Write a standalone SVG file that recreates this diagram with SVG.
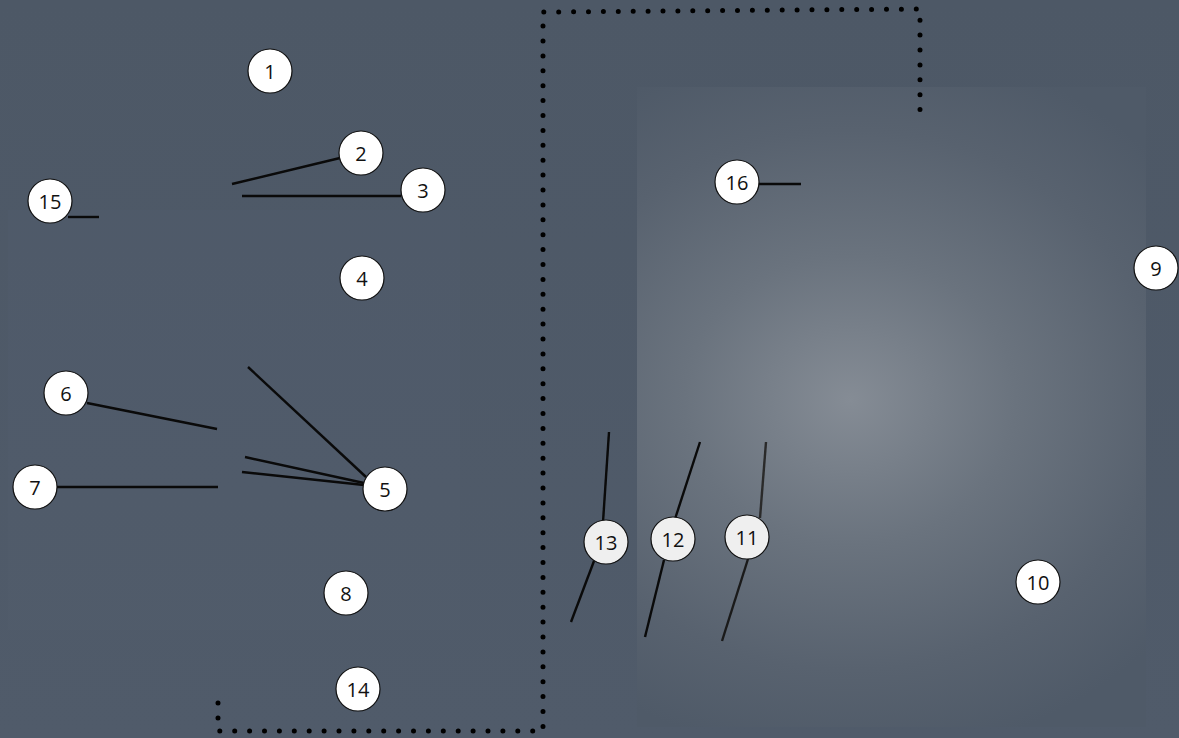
<svg xmlns="http://www.w3.org/2000/svg" width="1179" height="738" viewBox="0 0 1179 738">
<style>
.c{fill:#ffffff;stroke:#111;stroke-width:1.2}
.cg{fill:#efefef;stroke:#111;stroke-width:1.2}
.t{font-family:"Open Sans","Noto Sans","DejaVu Sans",sans-serif;font-size:20px;fill:#111;text-anchor:middle;dominant-baseline:central}
.l{stroke:#0a0a0a;stroke-width:2.4;fill:none}
.dots{stroke:#000;stroke-width:5;fill:none;stroke-linecap:round;stroke-dasharray:0 14.9}
</style>
<defs>
<linearGradient id="bg" x1="0" y1="0" x2="0" y2="1">
<stop offset="0" stop-color="#4d5866"/>
<stop offset="1" stop-color="#505b6a"/>
</linearGradient>
<radialGradient id="glow" gradientUnits="userSpaceOnUse" cx="850" cy="400" r="360" gradientTransform="translate(850 400) scale(1.15 1) translate(-850 -400)">
<stop offset="0" stop-color="#858c95"/>
<stop offset="0.4" stop-color="#6a737e"/>
<stop offset="0.75" stop-color="#58626f"/>
<stop offset="1" stop-color="#4f5a68"/>
</radialGradient>
</defs>
<rect x="0" y="0" width="1179" height="738" fill="url(#bg)"/>
<rect x="8" y="210" width="452" height="420" fill="#536070" opacity="0.25"/>
<rect x="637" y="87" width="509" height="640" fill="url(#glow)"/>
<g id="connectors">
<path class="dots" d="M218,703 L218,731 L543,731 L543,12 L920,9 L920,113"/>
<line class="l" x1="232" y1="184" x2="340" y2="158"/>
<line class="l" x1="242" y1="196" x2="401" y2="196"/>
<line class="l" x1="68" y1="217" x2="99" y2="217"/>
<line class="l" x1="87" y1="403" x2="217" y2="429"/>
<line class="l" x1="57" y1="487" x2="218" y2="487"/>
<line class="l" x1="248" y1="367" x2="366" y2="477"/>
<line class="l" x1="245" y1="457" x2="364" y2="483"/>
<line class="l" x1="242" y1="472" x2="364" y2="485"/>
<line class="l" x1="759" y1="184" x2="801" y2="184"/>
<line class="l" x1="609" y1="432" x2="603" y2="522"/>
<line class="l" x1="594" y1="561" x2="571" y2="622"/>
<line class="l" x1="700" y1="442" x2="675" y2="519"/>
<line class="l" x1="664" y1="560" x2="645" y2="637"/>
<line class="l" x1="766" y1="442" x2="760" y2="518" style="stroke:#2a2a2a"/>
<line class="l" x1="748" y1="559" x2="722" y2="641" style="stroke:#1a1a1a"/>
</g>
<g id="n1"><circle class="c" cx="270" cy="71" r="22"/><text class="t" x="270" y="71">1</text></g>
<g id="n2"><circle class="c" cx="361" cy="153" r="22"/><text class="t" x="361" y="153">2</text></g>
<g id="n3"><circle class="c" cx="423" cy="190" r="22"/><text class="t" x="423" y="190">3</text></g>
<g id="n4"><circle class="c" cx="362" cy="278" r="22"/><text class="t" x="362" y="278">4</text></g>
<g id="n5"><circle class="c" cx="385" cy="489" r="22"/><text class="t" x="385" y="489">5</text></g>
<g id="n6"><circle class="c" cx="66" cy="393" r="22"/><text class="t" x="66" y="393">6</text></g>
<g id="n7"><circle class="c" cx="35" cy="487" r="22"/><text class="t" x="35" y="487">7</text></g>
<g id="n8"><circle class="c" cx="346" cy="593" r="22"/><text class="t" x="346" y="593">8</text></g>
<g id="n9"><circle class="c" cx="1156" cy="268" r="22"/><text class="t" x="1156" y="268">9</text></g>
<g id="n10"><circle class="c" cx="1038" cy="582" r="22"/><text class="t" x="1038" y="582">10</text></g>
<g id="n11"><circle class="cg" cx="747" cy="537" r="22"/><text class="t" x="747" y="537">11</text></g>
<g id="n12"><circle class="cg" cx="673" cy="539" r="22"/><text class="t" x="673" y="539">12</text></g>
<g id="n13"><circle class="cg" cx="606" cy="542" r="22"/><text class="t" x="606" y="542">13</text></g>
<g id="n14"><circle class="c" cx="358" cy="689" r="22"/><text class="t" x="358" y="689">14</text></g>
<g id="n15"><circle class="c" cx="50" cy="201" r="22"/><text class="t" x="50" y="201">15</text></g>
<g id="n16"><circle class="c" cx="737" cy="182" r="22"/><text class="t" x="737" y="182">16</text></g>
</svg>
